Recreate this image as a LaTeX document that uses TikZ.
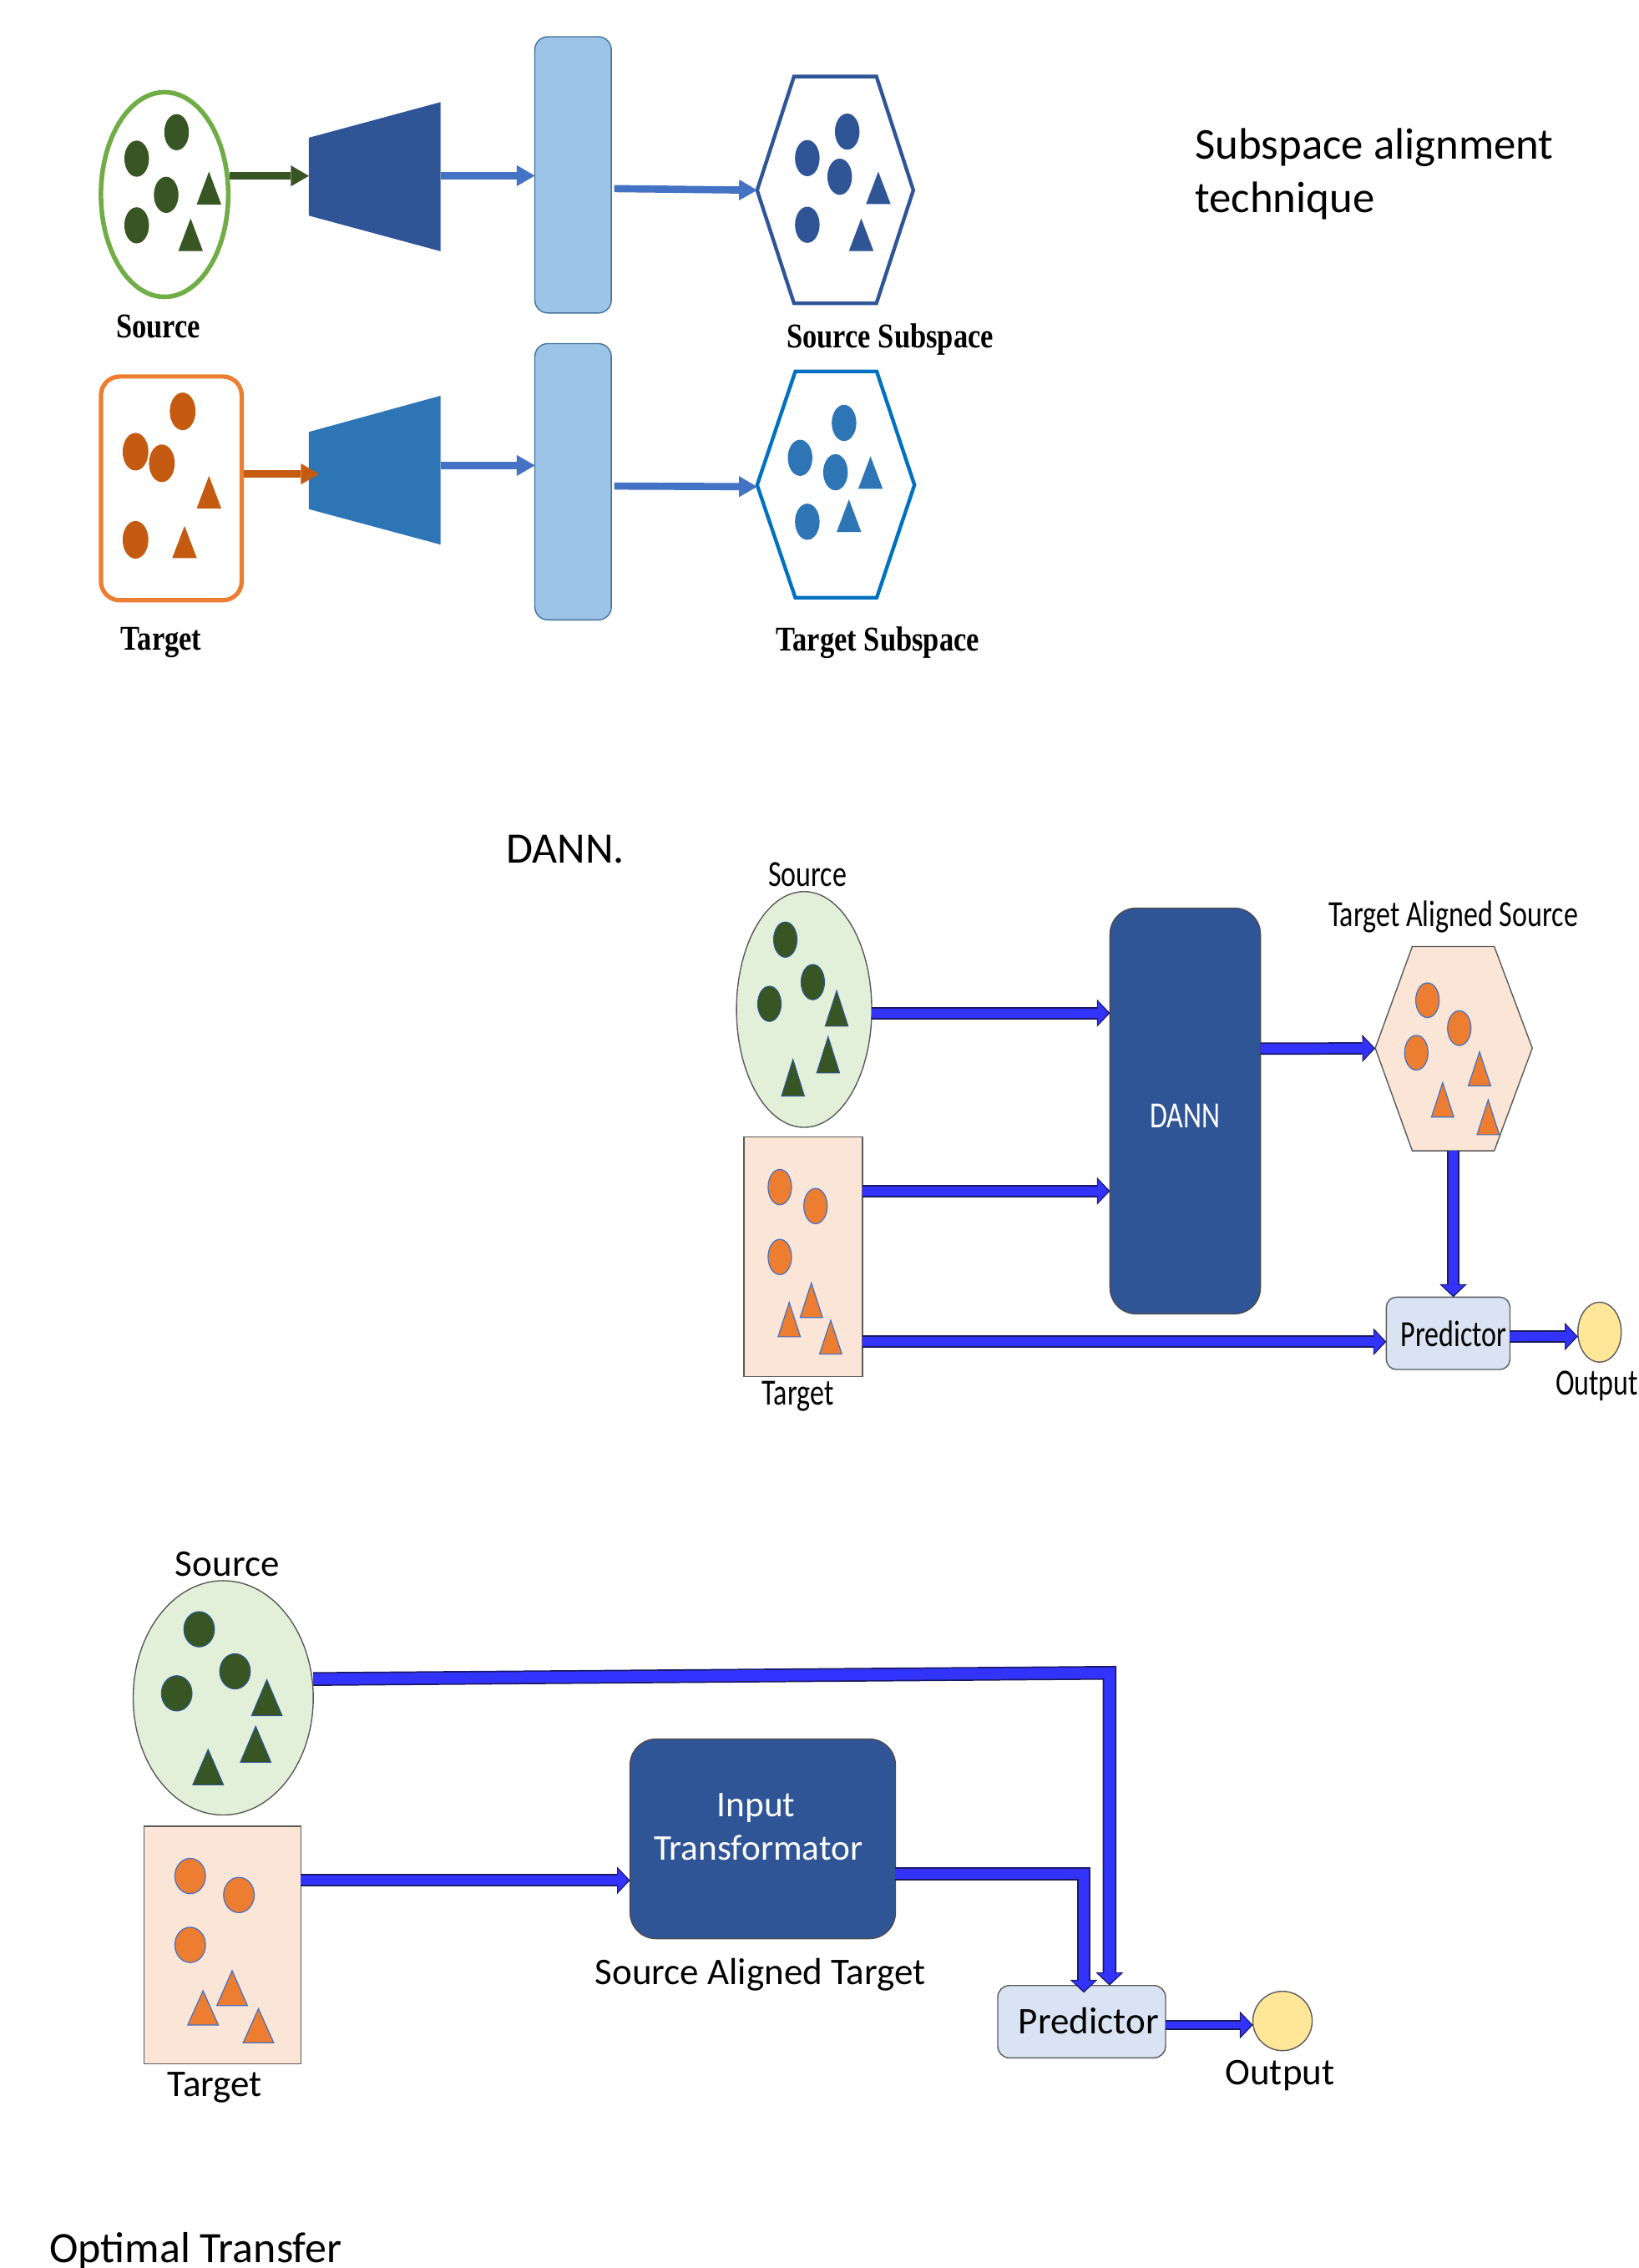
\documentclass[tikz,border=0pt]{standalone}
\usepackage{fontspec}
\usepackage{graphicx}
\setmainfont{Carlito}
\newfontfamily\timesb{Liberation Serif}
\usetikzlibrary{shapes.geometric,arrows.meta}
\definecolor{srcgreen}{HTML}{70AD47}
\definecolor{dkgreen}{HTML}{375623}
\definecolor{orline}{HTML}{ED7D31}
\definecolor{ordot}{HTML}{C55A11}
\definecolor{trapA}{HTML}{2F5597}
\definecolor{trapB}{HTML}{2E75B6}
\definecolor{barfill}{HTML}{9DC3E6}
\definecolor{barline}{HTML}{41719C}
\definecolor{arrA}{HTML}{4472C4}
\definecolor{hexA}{HTML}{2F5597}
\definecolor{hexB}{HTML}{0070C0}
\definecolor{lgreen}{HTML}{E2F0D9}
\definecolor{peach}{HTML}{FBE5D6}
\definecolor{navy}{HTML}{2F5597}
\definecolor{predfill}{HTML}{DAE3F3}
\definecolor{outfill}{HTML}{FFE699}
\definecolor{ablue}{HTML}{3333FF}
\definecolor{aedge}{HTML}{1A1A66}
\definecolor{grayline}{HTML}{595959}
\definecolor{dotedge}{HTML}{4472C4}
\definecolor{orfill}{HTML}{ED7D31}
\newcommand\cond[1]{\scalebox{0.77}[1]{#1}}
\newcommand\condt[1]{\scalebox{0.83}[1]{#1}}
\newcommand\trishape[5][]{\path[#1] (#2,#3) ++(0,-#5) -- ++(#4,2*#5) -- ++(-2*#4,0) -- cycle;}
\newcommand\barrow[2][8.5]{\draw[bout,line width=#1pt] #2; \draw[bin,line width=#1pt-2pt] #2;}
\begin{document}
\begin{tikzpicture}[x=1pt,y=-1pt,
  every node/.style={inner sep=0pt, outer sep=0pt},
  lblT/.style={font=\timesb\bfseries\fontsize{24}{28}\selectfont, anchor=base},
  lblC/.style={font=\fontsize{25.5}{30}\selectfont, anchor=base},
  lblS/.style={font=\fontsize{26}{31}\selectfont, anchor=base},
  title/.style={font=\fontsize{30}{36}\selectfont, anchor=base west},
  sarrow/.style={line width=5pt, -{Triangle[length=12.5pt,width=14.5pt,line width=0pt]}},
  bout/.style={draw=aedge, -{Triangle[length=9pt,width=19pt,line width=0pt]}},
  bin/.style={draw=ablue, shorten >=1.2pt, -{Triangle[length=7.2pt,width=15.6pt,line width=0pt]}},
  gdot/.style={fill=dkgreen, draw=navy, line width=0.6pt},
  odot/.style={fill=orfill, draw=dotedge, line width=0.7pt},
  box/.style={draw=grayline, line width=0.8pt},
  bar/.style={draw=barline, fill=barfill, line width=0.8pt, rounded corners=9pt, minimum width=52.9pt, minimum height=191pt},
  dark/.style={fill=navy, draw=black!70, line width=0.8pt, rounded corners=18pt}
]
\fill[white] (0,0) rectangle (1133,1568);
\useasboundingbox (0,0) rectangle (1133,1568);

%% ================= Section 1: Subspace alignment =================
\node[title, font=\fontsize{30.5}{37}\selectfont] (ttl1) at (826.3,109.7) {Subspace alignment};
\node[title, font=\fontsize{30.5}{37}\selectfont] (ttl2) at (826.3,147.2) {technique};

% source
\node[ellipse, draw=srcgreen, line width=3.2pt, outer sep=1.6pt, minimum width=88pt, minimum height=141.5pt] (srcA) at (113.8,134.5) {};
\fill[dkgreen] (122.1,91.4) ellipse (8.5 and 12.5);
\fill[dkgreen] (94.5,109.7) ellipse (8.5 and 12.5);
\fill[dkgreen] (114.9,134.7) ellipse (8.5 and 12.5);
\fill[dkgreen] (94.5,155.8) ellipse (8.5 and 12.5);
\trishape[fill=dkgreen]{144.5}{130}{8.5}{11.4}
\trishape[fill=dkgreen]{131.8}{162.3}{8.5}{11.3}
\node[lblT] (lsrcA) at (109.4,233.8) {\condt{Source}};

\fill[trapA] (213.6,95.2) -- (304.6,70.6) -- (304.6,173.7) -- (213.6,149.1) -- cycle;
\coordinate (trapAw) at (213.6,122);
\coordinate (trapAe) at (304.6,121.5);
\node[bar] (barA) at (396.25,120.9) {};
\draw[draw=hexA, line width=2.5pt] (549,52.9) -- (606,52.9) -- (631.5,131.5) -- (606,209.7) -- (549,209.7) -- (523.5,131.5) -- cycle;
\coordinate (hexAw) at (523.5,131.5);
\fill[trapA] (585.8,91) ellipse (8.5 and 12.5);
\fill[trapA] (558.2,109.3) ellipse (8.5 and 12.5);
\fill[trapA] (580.6,122.2) ellipse (8.5 and 12.5);
\fill[trapA] (558.2,155.4) ellipse (8.5 and 12.5);
\trishape[fill=trapA]{607.3}{129.85}{8.5}{11.2}
\trishape[fill=trapA]{595.5}{162.25}{8.5}{11.25}
\node[lblT] (lsubA) at (615.5,240.5) {\condt{Source Subspace}};

\draw[sarrow, draw=dkgreen] (srcA.16) -- (srcA.16 -| trapAw);
\draw[sarrow, draw=arrA] (trapAe) -- (trapAe -| barA.west);
\draw[sarrow, draw=arrA] ([xshift=2pt,yshift=-9.5pt]barA.east) -- (hexAw);

% target
\node[draw=orline, line width=3pt, outer sep=1.5pt, rounded corners=13pt, minimum width=97.3pt, minimum height=154.7pt] (tgtA) at (118.45,337.65) {};
\fill[ordot] (126.3,284.4) ellipse (8.9 and 13);
\fill[ordot] (93.7,312.3) ellipse (8.9 and 13);
\fill[ordot] (111.9,320.3) ellipse (8.9 and 13);
\fill[ordot] (93.7,373.2) ellipse (8.9 and 13);
\trishape[fill=ordot]{144.5}{340.25}{8.5}{11.25}
\trishape[fill=ordot]{127.6}{374.75}{8.5}{11.15}
\node[lblT] (ltgtA) at (111.5,449.2) {\condt{Target}};

\fill[trapB] (213.6,298.6) -- (304.6,273.6) -- (304.6,376.5) -- (213.6,352) -- cycle;
\coordinate (trapBw) at (213.6,327.7);
\coordinate (trapBe) at (304.6,321.8);
\node[bar] (barB) at (396.25,333.05) {};
\draw[draw=hexB, line width=2.5pt] (549.9,256.8) -- (606.2,256.8) -- (632.3,335.3) -- (606.2,413.2) -- (549.9,413.2) -- (523.5,335.3) -- cycle;
\coordinate (hexBw) at (523.5,336.5);
\fill[trapB] (583.6,292.4) ellipse (8.5 and 12.5);
\fill[trapB] (553.2,316.5) ellipse (8.5 and 12.5);
\fill[trapB] (577.7,326.5) ellipse (8.5 and 12.5);
\fill[trapB] (558.2,360.7) ellipse (8.5 and 12.5);
\trishape[fill=trapB]{601.9}{326.75}{8.5}{11.25}
\trishape[fill=trapB]{587}{356.55}{8.5}{11.25}
\node[lblT] (lsubB) at (607,449.8) {\condt{Target Subspace}};

\draw[sarrow, draw=ordot] ([yshift=9.95pt]tgtA.east) -- ([xshift=7pt]trapBw);
\draw[sarrow, draw=arrA] (trapBe) -- (trapBe -| barB.west);
\draw[sarrow, draw=arrA] ([xshift=2pt,yshift=-3pt]barB.east) -- (hexBw);

%% ================= Section 2: DANN =================
\node[title] (ttl3) at (350.1,596.8) {DANN.};

\node[lblC] (lsrcB) at (558.4,612.8) {\cond{Source}};
\node[ellipse, box, fill=lgreen, minimum width=93.5pt, minimum height=163pt] (srcB) at (556,697.9) {};
\path[gdot] (543,649.6) ellipse (8.1 and 12.2);
\path[gdot] (562,679) ellipse (8.1 and 12.2);
\path[gdot] (532,694) ellipse (8.1 and 12.2);
\trishape[gdot]{578.5}{697.15}{7.9}{12.25}
\trishape[gdot]{572.6}{729.25}{7.9}{12.55}
\trishape[gdot]{548.3}{745.1}{7.9}{12.7}

\node[box, fill=peach, minimum width=82pt, minimum height=165.7pt] (tgtB) at (555.3,868.8) {};
\path[odot] (539.2,820.7) ellipse (8.1 and 12.2);
\path[odot] (563.9,833.8) ellipse (8.1 and 12.2);
\path[odot] (539.2,869) ellipse (8.1 and 12.2);
\trishape[odot]{561}{898.9}{7.7}{11.9}
\trishape[odot]{545.7}{912.3}{7.7}{11.9}
\trishape[odot]{574.4}{924.45}{7.7}{11.65}
\node[lblC] (ltgtB) at (551.7,971.1) {\cond{Target}};

\node[dark, minimum width=104pt, minimum height=280.5pt] (dann) at (819.5,768.1) {};
\node[lblC, text=white] (dannlbl) at (819.3,779.8) {\cond{DANN}};

\draw[box, fill=peach] (976.5,654.4) -- (1033.2,654.4) -- (1059.5,724.6) -- (1033.2,795.6) -- (976.5,795.6) -- (950.9,724.6) -- cycle;
\coordinate (hexCw) at (950.9,724.8);
\coordinate (hexCs) at (1004.85,795.6);
\path[odot] (987,691.5) ellipse (8.1 and 12);
\path[odot] (1009,710.8) ellipse (8.1 and 12);
\path[odot] (979.3,727.8) ellipse (8.1 and 12);
\trishape[odot]{1023}{738.9}{7.7}{11.7}
\trishape[odot]{997.5}{760.4}{7.7}{11.9}
\trishape[odot]{1029}{772.45}{7.7}{12.05}
\node[lblC] (lhexC) at (1004.8,640.4) {\cond{Target Aligned Source}};

\node[box, fill=predfill, rounded corners=7pt, minimum width=85.5pt, minimum height=50pt] (predB) at (1001.3,921.8) {};
\node[lblC] (predBlbl) at (1005.2,930.8) {\cond{Predictor}};
\node[ellipse, box, fill=outfill, minimum width=30pt, minimum height=41.5pt] (outB) at (1106,921) {};
\node[lblC] (outBlbl) at (1104.2,964.4) {\cond{Output}};

\barrow{([yshift=-2.5pt]srcB.east) -- ([yshift=-2.5pt]srcB.east -| dann.west)}
\barrow{([yshift=45.4pt]tgtB.east) -- ([yshift=45.4pt]tgtB.east -| dann.west)}
\barrow{([yshift=43.1pt]dann.east) -- (hexCw)}
\barrow{(hexCs) -- (hexCs |- predB.north)}
\barrow{([yshift=-58.8pt]tgtB.east) -- ([yshift=-58.8pt]tgtB.east -| predB.west)}
\barrow{([yshift=-2.2pt]predB.east) -- ([yshift=-2.2pt]predB.east -| outB.west)}

%% ================= Section 3: Optimal Transfer =================
\node[lblS] (lsrcC) at (157.2,1089.8) {Source};
\node[ellipse, box, fill=lgreen, minimum width=124.5pt, minimum height=162pt] (srcC) at (154.35,1173.8) {};
\path[gdot] (137.7,1126.4) ellipse (10.6 and 12.2);
\path[gdot] (162.5,1155.5) ellipse (10.6 and 12.2);
\path[gdot] (122.2,1170.7) ellipse (10.6 and 12.2);
\trishape[gdot]{184.5}{1173.7}{10.6}{12.5}
\trishape[gdot]{176.8}{1205.9}{10.6}{12.5}
\trishape[gdot]{143.9}{1221.65}{10.6}{12.25}

\node[box, fill=peach, minimum width=108.6pt, minimum height=164.4pt] (tgtC) at (153.8,1344.8) {};
\path[odot] (131.5,1297) ellipse (10.6 and 12.2);
\path[odot] (165.2,1310.1) ellipse (10.6 and 12.2);
\path[odot] (131.5,1344.6) ellipse (10.6 and 12.2);
\trishape[odot]{160.5}{1374.5}{10.6}{12.1}
\trishape[odot]{140.4}{1388.15}{10.6}{11.85}
\trishape[odot]{178.7}{1400.5}{10.6}{11.8}
\node[lblS] (ltgtC) at (148.5,1449.5) {Target};

\node[dark, minimum width=183.5pt, minimum height=138pt] (trans) at (527.4,1271.3) {};
\node[lblS, font=\fontsize{25}{30}\selectfont, text=white] (translbl1) at (522.8,1255.9) {Input};
\node[lblS, font=\fontsize{25}{30}\selectfont, text=white] (translbl2) at (524.3,1286.1) {Transformator};
\node[lblS] (lsat) at (525.7,1371.7) {Source Aligned Target};

\node[box, fill=predfill, rounded corners=8pt, minimum width=116pt, minimum height=50pt] (predC) at (747.9,1397.7) {};
\node[lblS] (predClbl) at (752.7,1406) {Predictor};
\node[circle, box, fill=outfill, minimum size=41pt] (outC) at (886.8,1397.2) {};
\node[lblS] (outClbl) at (885,1441.4) {Output};

\coordinate (srcCcorner) at (767.2,1156.5);
\coordinate (predCin2) at ([xshift=1.5pt,yshift=-5pt]predC.north);
\barrow[9.5]{([yshift=13pt]srcC.east) -- (srcCcorner) -- (srcCcorner |- predC.north)}
\barrow{([yshift=44.8pt]tgtC.east) -- ([yshift=44.8pt]tgtC.east -| trans.west)}
\barrow[9]{([yshift=-24.2pt]trans.east) -- ([yshift=-24.2pt]trans.east -| predCin2) -- (predCin2)}
\barrow[7]{([yshift=-2.3pt]predC.east) -- ([yshift=-2.3pt]predC.east -| outC.west)}

\node[title] (ttl4) at (34.2,1564) {Optimal Transfer};
\end{tikzpicture}
\end{document}
